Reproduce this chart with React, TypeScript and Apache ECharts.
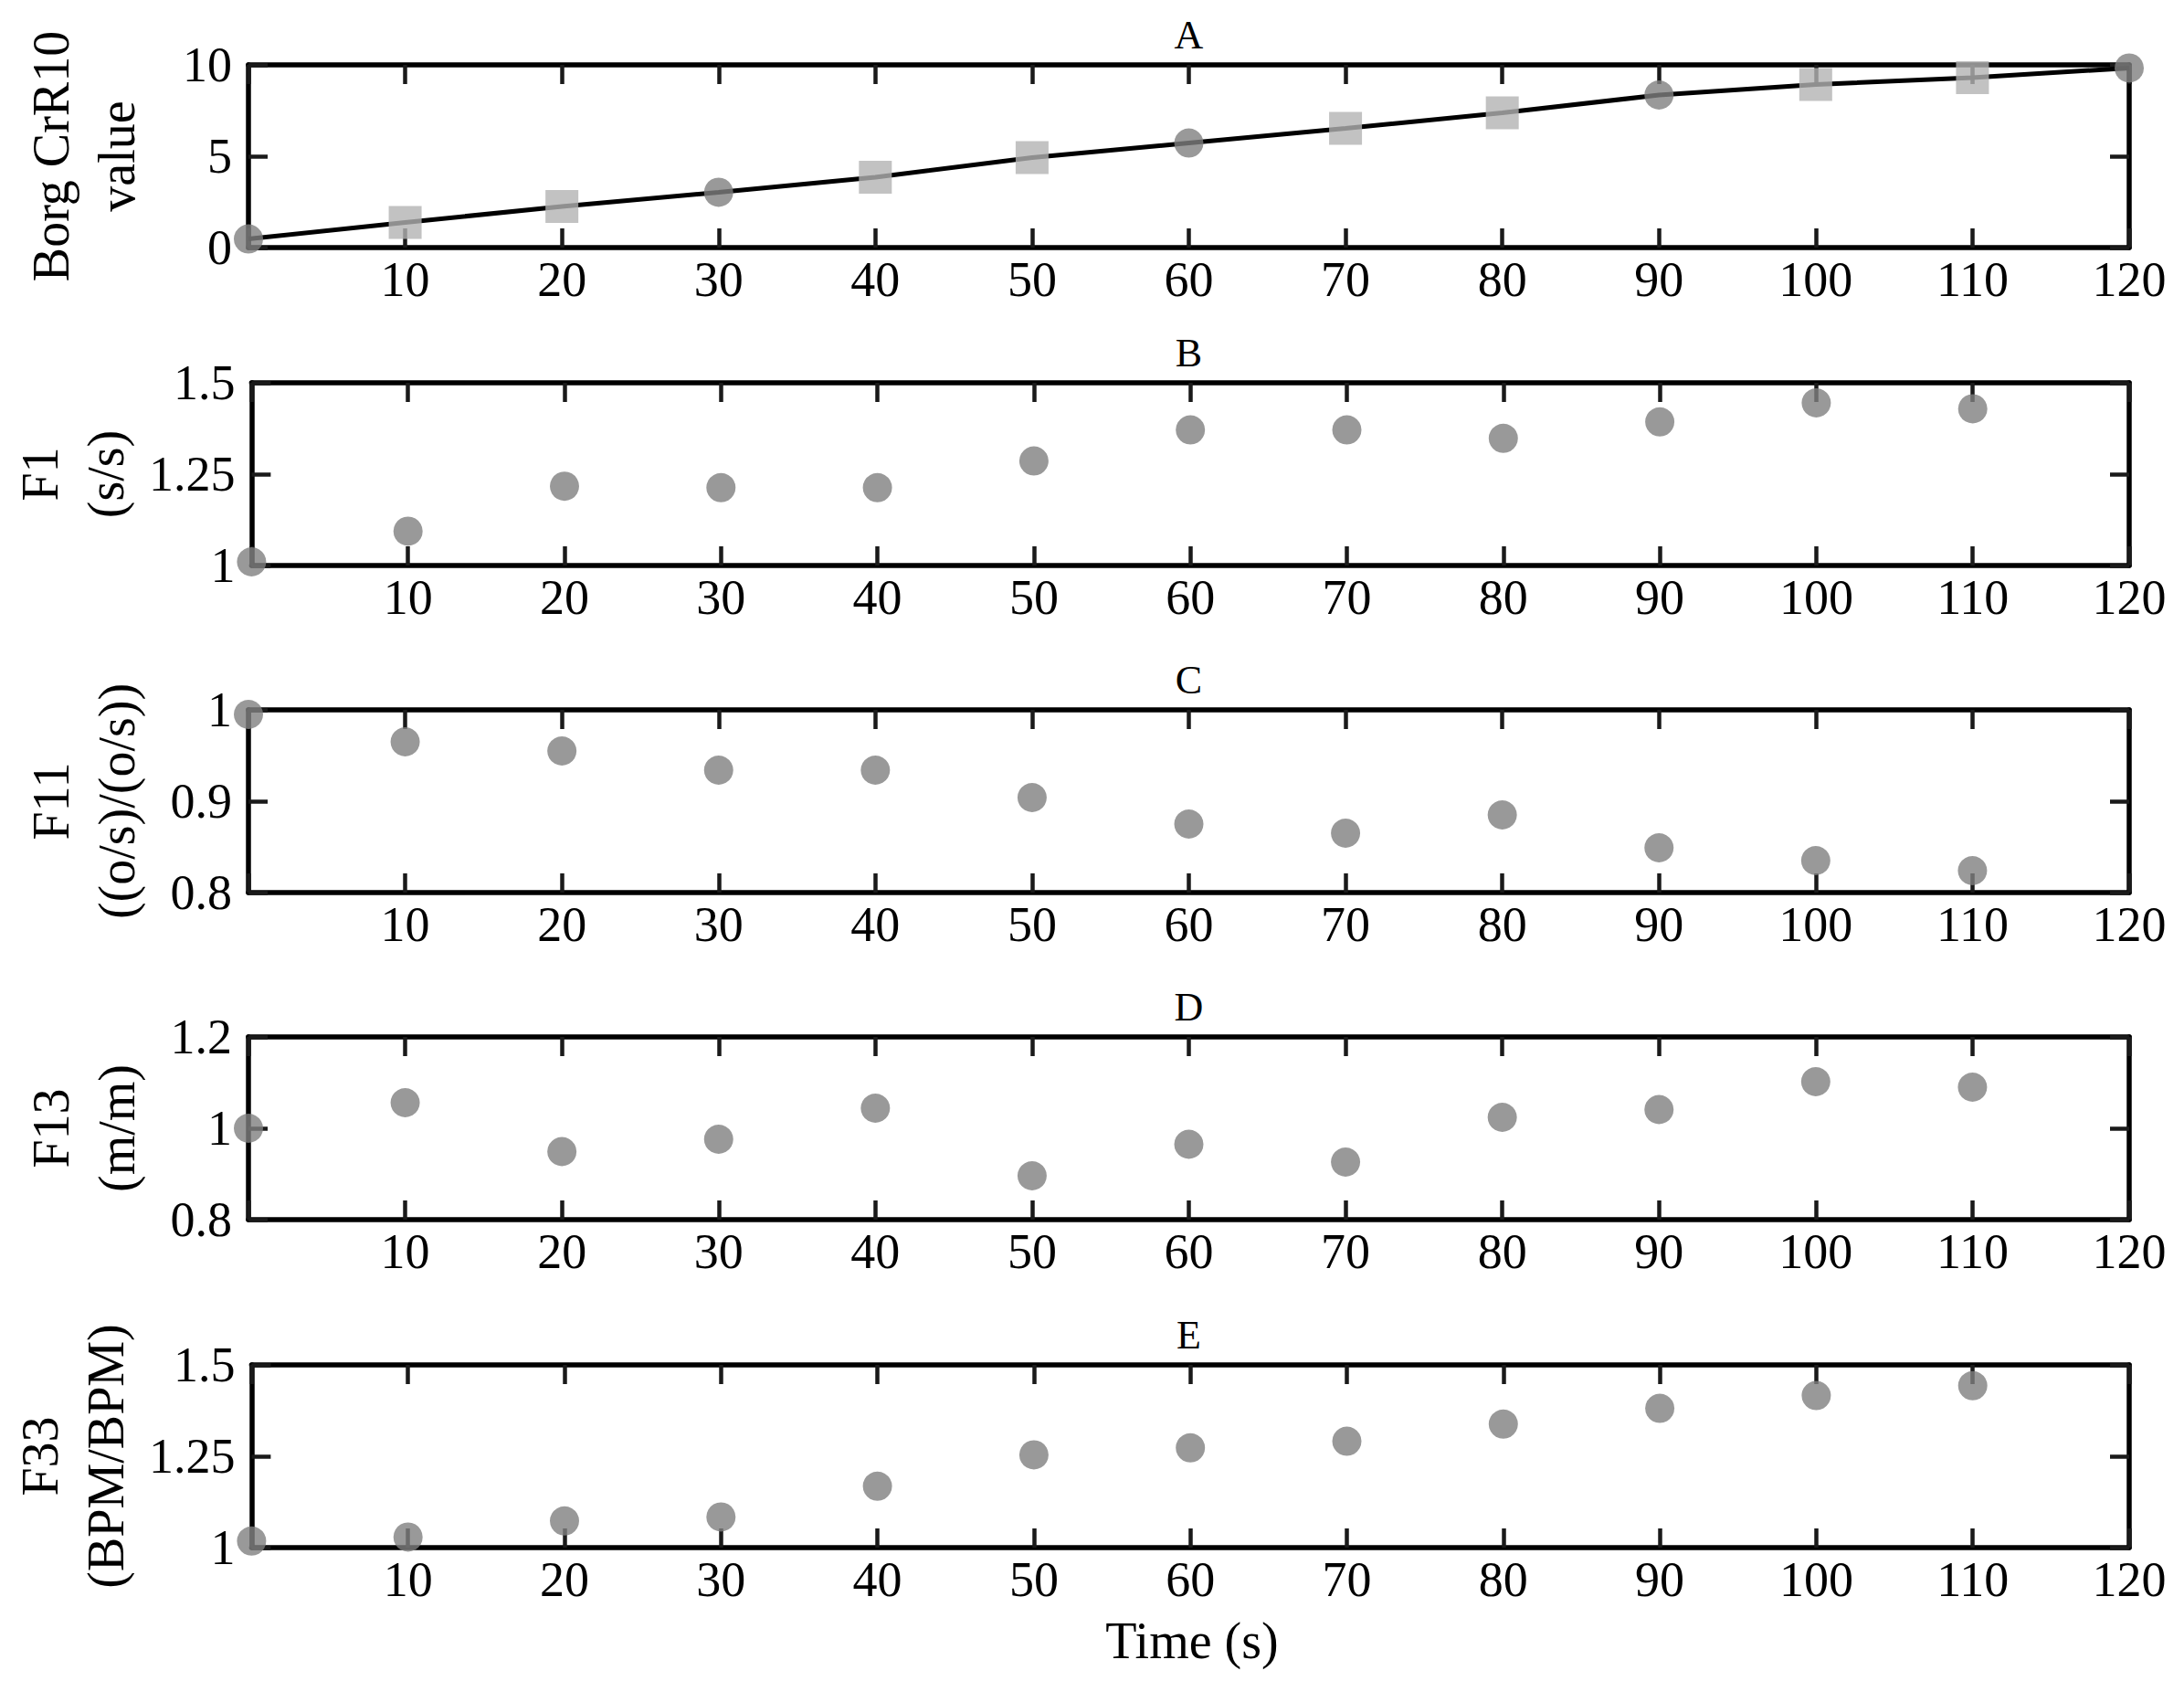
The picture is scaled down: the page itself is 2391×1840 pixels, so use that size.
import * as echarts from 'echarts';
import { useEffect, useRef } from 'react';

// time points (s)
const timeS = [0, 10, 20, 30, 40, 50, 60, 70, 80, 90, 100, 110, 120];
const timeF = [0, 10, 20, 30, 40, 50, 60, 70, 80, 90, 100, 110];

// A: Borg CR10 (circles = measured, squares = interpolated)
const borgCR10 = [0.47, 1.38, 2.25, 3.03, 3.85, 4.92, 5.72, 6.52, 7.37, 8.35, 8.93, 9.3, 9.83];
const borgMeasuredAt = [0, 30, 60, 90, 120];

// B–E
const f1 = [1.01, 1.094, 1.217, 1.213, 1.213, 1.286, 1.371, 1.371, 1.348, 1.393, 1.445, 1.429];
const f11 = [0.995, 0.965, 0.955, 0.934, 0.934, 0.904, 0.875, 0.865, 0.885, 0.849, 0.835, 0.824];
const f13 = [1.0, 1.056, 0.949, 0.976, 1.044, 0.896, 0.965, 0.926, 1.024, 1.041, 1.102, 1.09];
const f33 = [1.018, 1.029, 1.073, 1.084, 1.168, 1.254, 1.273, 1.291, 1.338, 1.381, 1.416, 1.443];

const panelTitles = ['A', 'B', 'C', 'D', 'E'];
const yNames = ['Borg CrR10\nvalue', 'F1\n(s/s)', 'F11\n((o/s)/(o/s))', 'F13\n(m/m)', 'F33\n(BPM/BPM)'];
const yMin = [0, 1, 0.8, 0.8, 1];
const yMax = [10, 1.5, 1, 1.2, 1.5];
const yStep = [5, 0.25, 0.1, 0.2, 0.25];

const FONT = '"Liberation Serif", "Times New Roman", serif';
const LEFT = 272;
const RIGHT = 2331;
const TOPS = [71, 419, 777, 1135, 1494];
const H = 200;
const CIRCLE = '#808080';
const SQUARE = '#b3b3b3';

const App = () => {
    const chartRef = useRef<HTMLDivElement>(null);

    useEffect(() => {
        if (!chartRef.current) return;
        const chart = echarts.init(chartRef.current, null, { renderer: 'svg' });

        const axisLine = { show: true, onZero: false, lineStyle: { color: '#000', width: 5.5 } };
        const axisTick = { show: true, inside: true, length: 21, lineStyle: { color: '#1a1a1a', width: 4.5 } };
        const labelStyle = { fontFamily: FONT, fontSize: 54, color: '#000' };

        const grid: any[] = [];
        const xAxis: any[] = [];
        const yAxis: any[] = [];
        TOPS.forEach((t, i) => {
            grid.push({ left: LEFT, width: RIGHT - LEFT, top: t, height: H, show: false });
            xAxis.push({
                type: 'value', gridIndex: i, position: 'bottom', min: 0, max: 120, interval: 10,
                axisLine, axisTick, splitLine: { show: false },
                axisLabel: { ...labelStyle, margin: 8, formatter: (v: number) => (v === 0 ? '' : String(v)) },
            });
            xAxis.push({
                type: 'value', gridIndex: i, position: 'top', min: 0, max: 120, interval: 10,
                axisLine, axisTick, splitLine: { show: false }, axisLabel: { show: false },
            });
            yAxis.push({
                type: 'value', gridIndex: i, position: 'left', min: yMin[i], max: yMax[i], interval: yStep[i],
                axisLine, axisTick, splitLine: { show: false },
                axisLabel: { ...labelStyle, margin: 18 },
                name: yNames[i], nameLocation: 'middle', nameRotate: 90, nameGap: i === 1 ? 118 : 108,
                nameTextStyle: { fontFamily: FONT, fontSize: 56, lineHeight: 72, color: '#000' },
            });
            yAxis.push({
                type: 'value', gridIndex: i, position: 'right', min: yMin[i], max: yMax[i], interval: yStep[i],
                axisLine, axisTick, splitLine: { show: false }, axisLabel: { show: false },
            });
        });

        const circleAt = (xs: number[], ys: number[]) => xs.map((x, k) => [x, ys[k]]);

        const series: any[] = [
            {
                type: 'line', xAxisIndex: 0, yAxisIndex: 0, data: circleAt(timeS, borgCR10),
                showSymbol: false, lineStyle: { color: '#000', width: 5 }, z: 2, clip: false,
            },
            {
                type: 'scatter', xAxisIndex: 0, yAxisIndex: 0, symbol: 'rect', symbolSize: 36, clip: false, z: 3,
                itemStyle: { color: SQUARE },
                data: circleAt(timeS, borgCR10).filter((d) => !borgMeasuredAt.includes(d[0])),
            },
            {
                type: 'scatter', xAxisIndex: 0, yAxisIndex: 0, symbol: 'circle', symbolSize: 32, clip: false, z: 3,
                itemStyle: { color: CIRCLE },
                data: circleAt(timeS, borgCR10).filter((d) => borgMeasuredAt.includes(d[0])),
            },
        ];
        [f1, f11, f13, f33].forEach((vals, k) => {
            const i = k + 1;
            series.push({
                type: 'scatter', xAxisIndex: i * 2, yAxisIndex: i * 2, symbol: 'circle', symbolSize: 32,
                clip: false, z: 3, itemStyle: { color: CIRCLE }, data: circleAt(timeF, vals),
            });
        });

        const graphic: any[] = panelTitles.map((title, i) => ({
            type: 'text', x: (LEFT + RIGHT) / 2, y: TOPS[i] - 33,
            style: { text: title, fontFamily: FONT, fontSize: 44, fill: '#000', align: 'center', verticalAlign: 'middle' },
        }));
        graphic.push({
            type: 'text', x: 1305, y: 1796,
            style: { text: 'Time (s)', fontFamily: FONT, fontSize: 56, fill: '#000', align: 'center', verticalAlign: 'middle' },
        });

        chart.setOption({
            animation: false,
            backgroundColor: '#fff',
            grid,
            xAxis,
            yAxis,
            series,
            graphic,
        });

        window.addEventListener('resize', () => chart.resize());
        return () => chart.dispose();
    }, []);

    return <div ref={chartRef} style={{ position: 'absolute', left: 0, top: 0, width: 2391, height: 1840 }} />;
};

export default App;
